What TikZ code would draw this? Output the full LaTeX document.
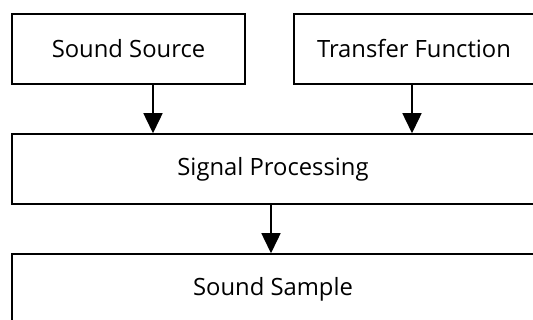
\documentclass[tikz,border=0pt]{standalone}
\usepackage{fontspec}
\setmainfont{Open Sans}
\usetikzlibrary{arrows.meta}
\tikzset{
  blk/.style={draw,line width=1.5pt,minimum height=70pt,inner sep=0pt,font=\fontsize{23.8}{28}\selectfont},
  flow/.style={line width=1.5pt,-{Triangle[width=19pt,length=20pt]}}
}
\begin{document}
\begin{tikzpicture}[x=1pt,y=-1pt]
\useasboundingbox (0,0) rectangle (533,320);
%
\node[blk,minimum width=233pt](src)at(128.5,49){Sound Source};
\node[blk,minimum width=240pt](tf)at(414,49){Transfer Function};
\node[blk,minimum width=522pt](sp)at(273,169){Signal Processing};
\node[blk,minimum width=522pt](smp)at(273,289){Sound Sample};
%
\coordinate(a1)at(153,0);
\coordinate(a2)at(412,0);
\coordinate(a3)at(271,0);
\draw[flow](src.south-|a1)--(sp.north-|a1);
\draw[flow](tf.south-|a2)--(sp.north-|a2);
\draw[flow](sp.south-|a3)--(smp.north-|a3);
\end{tikzpicture}
\end{document}
